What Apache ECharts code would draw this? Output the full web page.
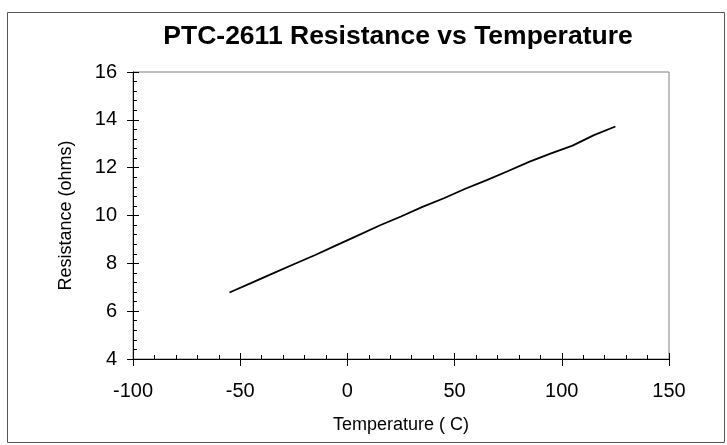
<!DOCTYPE html>
<html>
<head>
<meta charset="utf-8">
<script src="https://cdn.jsdelivr.net/npm/echarts@6/dist/echarts.min.js"></script>
<style>
html,body{margin:0;padding:0;background:#fff;}
#chart{width:727px;height:445px;}
</style>
</head>
<body>
<div id="chart"></div>
<script>
var temperatures = [-55, -45, -35, -25, -15, -5, 5, 15, 25, 35, 45, 55, 65, 75, 85, 95, 105, 115, 125];
var resistance = [6.78, 7.17, 7.57, 7.96, 8.35, 8.76, 9.17, 9.58, 9.96, 10.36, 10.72, 11.12, 11.48, 11.86, 12.25, 12.60, 12.92, 13.36, 13.72];
var titleText = 'PTC-2611 Resistance vs Temperature';
var xName = 'Temperature ( C)';
var yName = 'Resistance (ohms)';

var FONT = '"Liberation Sans", Arial, sans-serif';
var data = temperatures.map(function (t, i) { return [t, resistance[i]]; });

var chart = echarts.init(document.getElementById('chart'), null, {renderer: 'canvas'});

var xBase = {type: 'value', min: -100, max: 150, interval: 50, position: 'bottom', gridIndex: 0};
var yBase = {type: 'value', min: 4, max: 16, interval: 2, position: 'left', gridIndex: 0};

chart.setOption({
  animation: false,
  backgroundColor: '#fff',
  title: {
    text: titleText,
    left: 393, top: 18, textAlign: 'center',
    textStyle: {fontFamily: FONT, fontSize: 26.5, fontWeight: 'bold', color: '#000'}
  },
  graphic: [{
    type: 'rect', left: 5, top: 10, z: -1,
    shape: {width: 717, height: 430},
    style: {fill: 'none', stroke: '#555', lineWidth: 1}
  }],
  grid: {
    left: 133, right: 58, top: 72, bottom: 86,
    show: true, borderColor: '#808080', borderWidth: 1, backgroundColor: 'transparent'
  },
  xAxis: [
    Object.assign({}, xBase, {
      name: xName, nameLocation: 'middle', nameGap: 57,
      nameTextStyle: {fontFamily: FONT, fontSize: 18, color: '#000'},
      axisLine: {show: true, onZero: false, lineStyle: {color: '#000', width: 1}},
      axisTick: {show: true, inside: false, length: 7, lineStyle: {color: '#000'}},
      axisLabel: {fontFamily: FONT, fontSize: 20, color: '#000', margin: 22},
      splitLine: {show: false}
    }),
    Object.assign({}, xBase, {
      axisLine: {show: false, onZero: false},
      axisTick: {show: true, inside: true, length: 6, lineStyle: {color: '#000'}},
      minorTick: {show: true, splitNumber: 5, length: 4, lineStyle: {color: '#000'}},
      axisLabel: {show: false},
      splitLine: {show: false}
    })
  ],
  yAxis: [
    Object.assign({}, yBase, {
      name: yName, nameLocation: 'middle', nameGap: 58, nameRotate: 90,
      nameTextStyle: {fontFamily: FONT, fontSize: 18, color: '#000'},
      axisLine: {show: true, onZero: false, lineStyle: {color: '#000', width: 1}},
      axisTick: {show: true, inside: false, length: 6, lineStyle: {color: '#000'}},
      axisLabel: {fontFamily: FONT, fontSize: 20, color: '#000', margin: 16},
      splitLine: {show: false}
    }),
    Object.assign({}, yBase, {
      axisLine: {show: false, onZero: false},
      axisTick: {show: true, inside: true, length: 6, lineStyle: {color: '#000'}},
      minorTick: {show: true, splitNumber: 5, length: 4, lineStyle: {color: '#000'}},
      axisLabel: {show: false},
      splitLine: {show: false}
    })
  ],
  series: [{
    type: 'line',
    xAxisIndex: 0, yAxisIndex: 0,
    data: data,
    showSymbol: false, symbol: 'none',
    lineStyle: {color: '#000', width: 1.8},
    z: 5
  }]
});
</script>
</body>
</html>
